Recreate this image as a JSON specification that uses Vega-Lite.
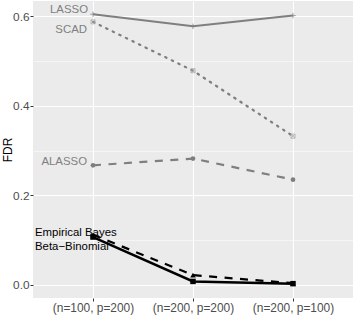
{
  "$schema": "https://vega.github.io/schema/vega-lite/v6.json",
  "width": 320,
  "height": 297,
  "autosize": {"type": "none"},
  "padding": {"left": 33, "top": 1, "right": 3, "bottom": 28},
  "background": "white",
  "config": {
    "view": {"fill": "#EBEBEB", "stroke": null},
    "font": "Liberation Sans"
  },
  "data": {
    "values": [
      {"series": "LASSO", "setting": "(n=100, p=200)", "fdr": 0.604},
      {"series": "LASSO", "setting": "(n=200, p=200)", "fdr": 0.577},
      {"series": "LASSO", "setting": "(n=200, p=100)", "fdr": 0.601},
      {"series": "SCAD", "setting": "(n=100, p=200)", "fdr": 0.587},
      {"series": "SCAD", "setting": "(n=200, p=200)", "fdr": 0.478},
      {"series": "SCAD", "setting": "(n=200, p=100)", "fdr": 0.332},
      {"series": "ALASSO", "setting": "(n=100, p=200)", "fdr": 0.267},
      {"series": "ALASSO", "setting": "(n=200, p=200)", "fdr": 0.282},
      {"series": "ALASSO", "setting": "(n=200, p=100)", "fdr": 0.235},
      {"series": "Empirical Bayes", "setting": "(n=100, p=200)", "fdr": 0.112},
      {"series": "Empirical Bayes", "setting": "(n=200, p=200)", "fdr": 0.022},
      {"series": "Empirical Bayes", "setting": "(n=200, p=100)", "fdr": 0.004},
      {"series": "Beta−Binomial", "setting": "(n=100, p=200)", "fdr": 0.107},
      {"series": "Beta−Binomial", "setting": "(n=200, p=200)", "fdr": 0.008},
      {"series": "Beta−Binomial", "setting": "(n=200, p=100)", "fdr": 0.003}
    ]
  },
  "encoding": {
    "x": {
      "field": "setting",
      "type": "ordinal",
      "sort": ["(n=100, p=200)", "(n=200, p=200)", "(n=200, p=100)"],
      "scale": {"type": "point", "padding": 0.6},
      "axis": {
        "title": null,
        "labelAngle": 0,
        "domain": false,
        "grid": true,
        "gridColor": "white",
        "gridWidth": 1.1,
        "tickColor": "#333333",
        "tickSize": 3,
        "labelPadding": 1,
        "labelColor": "#4D4D4D",
        "labelFontSize": 11.9,
        "labelFont": "Liberation Sans"
      }
    },
    "y": {
      "field": "fdr",
      "type": "quantitative",
      "scale": {"domain": [-0.029, 0.6335], "nice": false, "zero": false},
      "axis": {
        "title": "FDR",
        "titleFont": "Liberation Sans",
        "titleFontSize": 12,
        "titleFontWeight": "normal",
        "titleColor": "black",
        "titleX": -19,
        "values": [0, 0.1, 0.2, 0.3, 0.4, 0.5, 0.6],
        "labelExpr": "abs(datum.value*5 - round(datum.value*5)) < 0.001 ? format(datum.value, '.1f') : ''",
        "domain": false,
        "grid": true,
        "gridColor": "white",
        "gridWidth": {"condition": {"test": "abs(datum.value*5 - round(datum.value*5)) < 0.001", "value": 1.1}, "value": 0.5},
        "tickColor": "#333333",
        "tickSize": {"condition": {"test": "abs(datum.value*5 - round(datum.value*5)) < 0.001", "value": 3}, "value": 0},
        "labelPadding": 1,
        "labelColor": "#4D4D4D",
        "labelFontSize": 11.8,
        "labelFont": "Liberation Sans"
      }
    }
  },
  "layer": [
    {
      "transform": [{"filter": "datum.series == 'LASSO'"}],
      "mark": {"type": "line", "color": "#7F7F7F", "strokeWidth": 2},
      "encoding": {}
    },
    {
      "transform": [{"filter": "datum.series == 'SCAD'"}],
      "mark": {"type": "line", "color": "#7F7F7F", "strokeWidth": 2.2, "strokeDash": [1.5, 5.8], "strokeCap": "round"},
      "encoding": {}
    },
    {
      "transform": [{"filter": "datum.series == 'ALASSO'"}],
      "mark": {"type": "line", "color": "#7F7F7F", "strokeWidth": 2.2, "strokeDash": [8, 7.5]},
      "encoding": {}
    },
    {
      "transform": [{"filter": "datum.series == 'Empirical Bayes'"}],
      "mark": {"type": "line", "color": "black", "strokeWidth": 2.2, "strokeDash": [8, 7.5]},
      "encoding": {}
    },
    {
      "transform": [{"filter": "datum.series == 'Beta−Binomial'"}],
      "mark": {"type": "line", "color": "black", "strokeWidth": 2.5},
      "encoding": {}
    },
    {
      "transform": [{"filter": "datum.series == 'LASSO'"}],
      "mark": {"type": "point", "shape": "M-1,0L1,0M0,-1L0,1", "filled": false, "stroke": "#7F7F7F", "strokeWidth": 1, "size": 30},
      "encoding": {}
    },
    {
      "transform": [{"filter": "datum.series == 'SCAD'"}],
      "mark": {"type": "point", "shape": "M-1,-1L1,-1L1,1L-1,1ZM-1,-1L1,1M1,-1L-1,1", "filled": false, "stroke": "#A0A0A0", "strokeWidth": 1, "size": 16},
      "encoding": {}
    },
    {
      "transform": [{"filter": "datum.series == 'ALASSO'"}],
      "mark": {"type": "point", "shape": "circle", "filled": true, "color": "#7F7F7F", "opacity": 1, "size": 22},
      "encoding": {}
    },
    {
      "transform": [{"filter": "datum.series == 'Empirical Bayes'"}],
      "mark": {"type": "point", "shape": "triangle-up", "filled": true, "color": "black", "opacity": 1, "size": 30},
      "encoding": {}
    },
    {
      "transform": [{"filter": "datum.series == 'Beta−Binomial'"}],
      "mark": {"type": "point", "shape": "square", "filled": true, "color": "black", "opacity": 1, "size": 30},
      "encoding": {}
    },
    {
      "transform": [{"filter": "datum.series == 'LASSO' && datum.setting == '(n=100, p=200)'"}],
      "mark": {"type": "text", "align": "right", "baseline": "middle", "dx": -5, "dy": -4, "fontSize": 11.4, "font": "Liberation Sans", "color": "#7F7F7F"},
      "encoding": {"text": {"field": "series"}}
    },
    {
      "transform": [{"filter": "datum.series == 'SCAD' && datum.setting == '(n=100, p=200)'"}],
      "mark": {"type": "text", "align": "right", "baseline": "middle", "dx": -6, "dy": 8, "fontSize": 11.4, "font": "Liberation Sans", "color": "#7F7F7F"},
      "encoding": {"text": {"field": "series"}}
    },
    {
      "transform": [{"filter": "datum.series == 'ALASSO' && datum.setting == '(n=100, p=200)'"}],
      "mark": {"type": "text", "align": "right", "baseline": "middle", "dx": -6, "dy": -3, "fontSize": 11.4, "font": "Liberation Sans", "color": "#7F7F7F"},
      "encoding": {"text": {"field": "series"}}
    },
    {
      "transform": [{"filter": "datum.series == 'Empirical Bayes' && datum.setting == '(n=100, p=200)'"}],
      "mark": {"type": "text", "align": "left", "baseline": "middle", "dx": -58, "dy": -2, "fontSize": 11.4, "font": "Liberation Sans", "color": "black"},
      "encoding": {"text": {"field": "series"}}
    },
    {
      "transform": [{"filter": "datum.series == 'Beta−Binomial' && datum.setting == '(n=100, p=200)'"}],
      "mark": {"type": "text", "align": "left", "baseline": "middle", "dx": -58, "dy": 10, "fontSize": 11.4, "font": "Liberation Sans", "color": "black"},
      "encoding": {"text": {"field": "series"}}
    }
  ]
}
